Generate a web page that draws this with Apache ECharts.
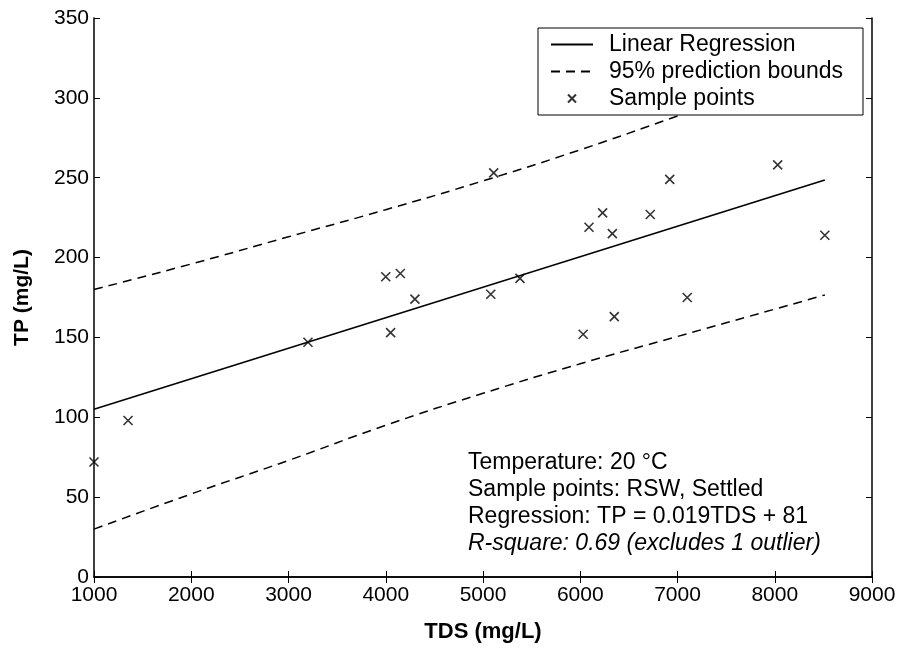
<!DOCTYPE html>
<html>
<head>
<meta charset="utf-8">
<script src="https://cdn.jsdelivr.net/npm/echarts@6/dist/echarts.min.js"></script>
<style>
  html, body { margin: 0; padding: 0; background: #fff; }
  #chart { width: 901px; height: 648px; }
</style>
</head>
<body>
<div id="chart"></div>
<script>
// sample points, TDS vs TP
const sampleTDS = [1000, 1350, 3200, 4000, 4050, 4150, 4300, 5080, 5110, 5380, 6030, 6090, 6230, 6330, 6350, 6720, 6920, 7100, 8030, 8515];
const sampleTP  = [72, 98, 147, 188, 153, 190, 174, 177, 253, 187, 152, 219, 228, 215, 163, 227, 249, 175, 258, 214];

// regression line end points
const regTDS = [1000, 8515];
const regTP  = [105, 248.6];

// 95% prediction bounds
const boundTDS = [1000, 2000, 3000, 4000, 5000, 6000, 7000, 8000, 8515];
const upperTP  = [180, 196, 213, 230, 248, 267.5, 288.6, 309.7, 320.6];
const lowerTP  = [30, 52, 73, 95, 115, 133.5, 150.6, 167.7, 176.6];

const noteLines = [
  'Temperature: 20 °C',
  'Sample points: RSW, Settled',
  'Regression: TP = 0.019TDS + 81',
  'R-square: 0.69 (excludes 1 outlier)'
];

const FONT = '"Liberation Sans", Arial, Helvetica, sans-serif';
const pair = (xs, ys) => xs.map((x, i) => [x, ys[i]]);
const dash = { color: '#000', width: 1.5, type: [9, 6] };
const plain = v => String(v);

const chart = echarts.init(document.getElementById('chart'));
chart.setOption({
  animation: false,
  backgroundColor: '#fff',
  textStyle: { fontFamily: FONT },
  grid: { left: 94, right: 29, top: 18, bottom: 64 },
  xAxis: [{
    type: 'value', min: 1000, max: 9000, interval: 1000,
    name: 'TDS (mg/L)', nameLocation: 'middle', nameGap: 44,
    nameTextStyle: { color: '#000', fontSize: 22, fontWeight: 'bold', fontFamily: FONT },
    axisLine: { lineStyle: { color: '#000', width: 1.5 } },
    axisTick: { inside: true, length: 6, lineStyle: { color: '#000' } },
    axisLabel: { color: '#000', fontSize: 21, margin: 8, fontFamily: FONT, formatter: plain },
    splitLine: { show: false }
  }, {
    type: 'value', min: 1000, max: 9000, interval: 1000, position: 'top',
    axisLine: { lineStyle: { color: '#000', width: 1.5 } },
    axisTick: { inside: true, length: 6, lineStyle: { color: '#000' } },
    axisLabel: { show: false },
    splitLine: { show: false }
  }],
  yAxis: [{
    type: 'value', min: 0, max: 350, interval: 50,
    name: 'TP (mg/L)', nameLocation: 'middle', nameGap: 61,
    nameTextStyle: { color: '#000', fontSize: 21, fontWeight: 'bold', fontFamily: FONT },
    axisLine: { show: true, lineStyle: { color: '#000', width: 1.5 } },
    axisTick: { show: true, inside: true, length: 6, lineStyle: { color: '#000' } },
    axisLabel: { color: '#000', fontSize: 21, margin: 5, fontFamily: FONT, formatter: plain },
    splitLine: { show: false }
  }, {
    type: 'value', min: 0, max: 350, interval: 50, position: 'right',
    axisLine: { show: true, lineStyle: { color: '#000', width: 1.5 } },
    axisTick: { show: true, inside: true, length: 6, lineStyle: { color: '#000' } },
    axisLabel: { show: false },
    splitLine: { show: false }
  }],
  legend: {
    left: 538, top: 28, orient: 'vertical',
    backgroundColor: '#fff', borderColor: '#000', borderWidth: 1,
    padding: [3, 20, 3, 12],
    itemWidth: 42, itemHeight: 8, itemGap: 0,
    textStyle: { color: '#000', fontSize: 23, lineHeight: 27, padding: [0, 0, 0, 11], fontFamily: FONT },
    data: [
      { name: 'Linear Regression', itemStyle: { opacity: 0 } },
      { name: '95% prediction bounds', itemStyle: { opacity: 0 } },
      'Sample points'
    ]
  },
  series: [
    {
      name: 'Linear Regression', type: 'line', symbol: 'none',
      color: '#000',
      lineStyle: { color: '#000', width: 1.5 },
      data: pair(regTDS, regTP)
    },
    {
      name: '95% prediction bounds', type: 'line', symbol: 'none', smooth: true,
      color: '#000',
      lineStyle: dash,
      data: pair(boundTDS, upperTP)
    },
    {
      name: '95% prediction bounds', type: 'line', symbol: 'none', smooth: true,
      color: '#000',
      lineStyle: dash,
      data: pair(boundTDS, lowerTP)
    },
    {
      name: 'Sample points', type: 'scatter',
      symbol: 'path://M0,0L10,10M10,0L0,10', symbolSize: 9,
      itemStyle: { color: 'none', borderColor: '#000', borderWidth: 1.6 },
      data: pair(sampleTDS, sampleTP)
    }
  ],
  graphic: noteLines.map((t, i) => ({
    type: 'text', x: 468, y: 463 + i * 26.8,
    style: {
      text: t, fill: '#000', verticalAlign: 'middle',
      font: (i === 3 ? 'italic ' : '') + '23px ' + FONT
    }
  }))
});
</script>
</body>
</html>
